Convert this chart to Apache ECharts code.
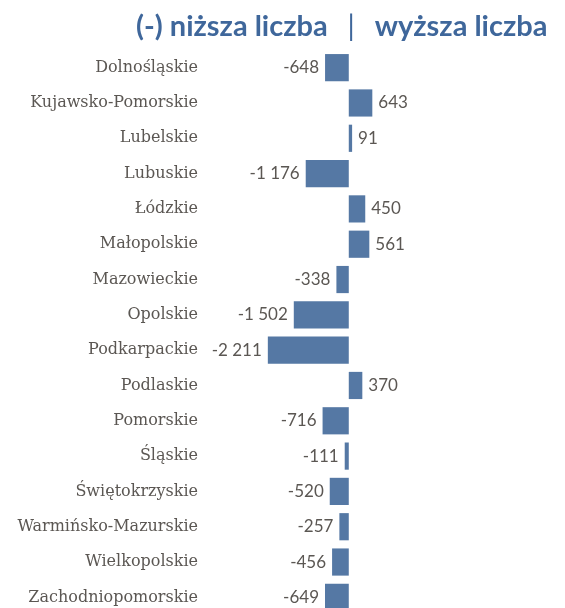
<!DOCTYPE html>
<html>
<head>
<meta charset="utf-8">
<script src="https://cdn.jsdelivr.net/npm/echarts@6/dist/echarts.min.js"></script>
<style>
  html, body { margin: 0; padding: 0; background: #fff; overflow: hidden; }
  #chart { width: 565px; height: 620px; }
</style>
</head>
<body>
<div id="chart"></div>
<script>
// Województwa and their values
const regions = [
  'Dolnośląskie', 'Kujawsko-Pomorskie', 'Lubelskie', 'Lubuskie', 'Łódzkie',
  'Małopolskie', 'Mazowieckie', 'Opolskie', 'Podkarpackie', 'Podlaskie',
  'Pomorskie', 'Śląskie', 'Świętokrzyskie', 'Warmińsko-Mazurskie',
  'Wielkopolskie', 'Zachodniopomorskie'
];
const values = [
  -648, 643, 91, -1176, 450,
  561, -338, -1502, -2211, 370,
  -716, -111, -520, -257,
  -456, -649
];

const barColor = '#5578a4';
const textGrey = '#5b5753';

// thousands separated by a space, e.g. -1 502
function fmt(v) {
  const s = String(Math.abs(v)).replace(/\B(?=(\d{3})+(?!\d))/g, ' ');
  return (v < 0 ? '-' : '') + s;
}

const chart = echarts.init(document.getElementById('chart'));
chart.setOption({
  animation: false,
  title: {
    left: 131,
    top: 7,
    text: '{a|(-) niższa liczba}{s|  |  }{a|wyższa liczba}',
    textStyle: {
      rich: {
        a: { fontFamily: 'Lato', fontWeight: 'bold', fontSize: 29, color: '#3f679b' },
        s: { fontFamily: 'Lato', fontWeight: 'normal', fontSize: 29, color: '#3f679b', padding: [0, 5, 0, 5] }
      }
    }
  },
  grid: { left: 206, top: 50, width: 216, height: 565, containLabel: false },
  xAxis: {
    type: 'value',
    min: -3900,
    max: 2000,
    show: false
  },
  yAxis: {
    type: 'category',
    data: regions,
    inverse: true,
    axisLine: { show: false },
    axisTick: { show: false },
    axisLabel: {
      margin: 8,
      fontFamily: 'DejaVu Serif',
      fontSize: 16,
      color: textGrey
    }
  },
  series: [{
    type: 'bar',
    barCategoryGap: '23%',
    itemStyle: { color: barColor },
    data: values.map(v => ({
      value: v,
      label: {
        show: true,
        position: v < 0 ? 'left' : 'right',
        distance: 6,
        formatter: p => fmt(p.value),
        fontFamily: 'Lato',
        fontSize: 17,
        color: textGrey
      }
    }))
  }]
});
</script>
</body>
</html>
